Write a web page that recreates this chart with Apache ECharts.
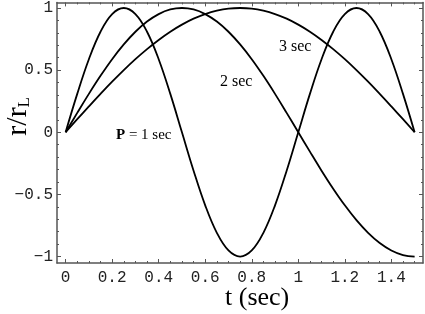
<!DOCTYPE html>
<html>
<head>
<meta charset="utf-8">
<script src="https://cdn.jsdelivr.net/npm/echarts@6/dist/echarts.min.js"></script>
<style>html,body{margin:0;padding:0;background:#fff}#c{width:425px;height:314px}</style>
</head>
<body>
<div id="c"></div>
<script>
const times = [0,0.05,0.1,0.15,0.2,0.25,0.3,0.35,0.4,0.45,0.5,0.55,0.6,0.65,0.7,0.75,0.8,0.85,0.9,0.95,1,1.05,1.1,1.15,1.2,1.25,1.3,1.35,1.4,1.45,1.5];
const period1 = [0,0.309,0.588,0.809,0.951,1,0.951,0.809,0.588,0.309,0,-0.309,-0.588,-0.809,-0.951,-1,-0.951,-0.809,-0.588,-0.309,0,0.309,0.588,0.809,0.951,1,0.951,0.809,0.588,0.309,0];
const period2 = [0,0.156,0.309,0.454,0.588,0.707,0.809,0.891,0.951,0.988,1,0.988,0.951,0.891,0.809,0.707,0.588,0.454,0.309,0.156,0,-0.156,-0.309,-0.454,-0.588,-0.707,-0.809,-0.891,-0.951,-0.988,-1];
const period3 = [0,0.105,0.208,0.309,0.407,0.5,0.588,0.669,0.743,0.809,0.866,0.914,0.951,0.978,0.995,1,0.995,0.978,0.951,0.914,0.866,0.809,0.743,0.669,0.588,0.5,0.407,0.309,0.208,0.105,0];
const curveLabels = ['P = 1 sec', '2 sec', '3 sec'];
const xMajorTicks = [0,0.2,0.4,0.6,0.8,1,1.2,1.4];
const xMinorTicks = [0.05,0.1,0.15,0.25,0.3,0.35,0.45,0.5,0.55,0.65,0.7,0.75,0.85,0.9,0.95,1.05,1.1,1.15,1.25,1.3,1.35,1.45,1.5];
const yMajorTicks = [-1,-0.5,0,0.5,1];
const yMinorTicks = [-0.9,-0.8,-0.7,-0.6,-0.4,-0.3,-0.2,-0.1,0.1,0.2,0.3,0.4,0.6,0.7,0.8,0.9];
const xTitle = 't (sec)';

const X_MIN = -0.037, X_MAX = 1.536, Y_MIN = -1.052, Y_MAX = 1.045;
function pairs(vals){ return times.map((t,i)=>[t, vals[i]]); }
function fmt(v){ return String(+Number(v).toFixed(2)).replace('-', '\u2212'); }
const frameColor = '#555';
function axis(kind, pos, ticks, len, showLine, showLabel, margin){
  const isX = kind === 'x';
  return {
    type:'value', position:pos,
    min: isX ? X_MIN : Y_MIN, max: isX ? X_MAX : Y_MAX,
    axisLine:{show:showLine, onZero:false, lineStyle:{color:frameColor, width:1.5}},
    axisTick:{show:true, inside:true, length:len, customValues:ticks, lineStyle:{color:frameColor, width:1}},
    minorTick:{show:false},
    splitLine:{show:false},
    axisLabel:{show:showLabel, customValues:ticks, margin:margin, formatter:fmt,
      fontFamily:'Liberation Mono', fontSize:16, color:'#222'}
  };
}
const lineStyle = {color:'#000', width:1.8};
function ser(vals, name){
  return {type:'line', name:name, data:pairs(vals), smooth:0.4, showSymbol:false, symbol:'none',
    lineStyle:lineStyle, xAxisIndex:0, yAxisIndex:0, animation:false};
}
const chart = echarts.init(document.getElementById('c'), null, {renderer:'canvas'});
chart.setOption({
  animation:false,
  backgroundColor:'#fff',
  grid:{left:57, right:2, top:1, bottom:51, containLabel:false},
  xAxis:[
    axis('x','bottom', xMajorTicks, 4, true, true, 7),
    axis('x','bottom', xMinorTicks, 2, false, false, 7),
    axis('x','top', xMajorTicks, 4, true, false, 7),
    axis('x','top', xMinorTicks, 2, false, false, 7)
  ],
  yAxis:[
    axis('y','left', yMajorTicks, 4, true, true, 4),
    axis('y','left', yMinorTicks, 2, false, false, 4),
    axis('y','right', yMajorTicks, 4, true, false, 4),
    axis('y','right', yMinorTicks, 2, false, false, 4)
  ],
  series:[ser(period1, curveLabels[0]), ser(period2, curveLabels[1]), ser(period3, curveLabels[2])],
  graphic:[
    {type:'text', left:116, top:128, style:{text:'{b|P} = 1 sec', font:'15px "Liberation Serif"', fill:'#000',
      rich:{b:{fontWeight:'bold', fontFamily:'Liberation Serif', fontSize:15}}}},
    {type:'text', left:220, top:74, style:{text:curveLabels[1], font:'16px "Liberation Serif"', fill:'#000'}},
    {type:'text', left:279, top:39, style:{text:curveLabels[2], font:'16px "Liberation Serif"', fill:'#000'}},
    {type:'text', left:225, top:285, style:{text:xTitle, font:'26px "Liberation Serif"', fill:'#000'}},
    {type:'text', left:3, top:97, rotation:Math.PI/2,
      style:{text:'r/r{s|L}', font:'30px "Liberation Serif"', fill:'#000',
        rich:{s:{fontSize:17, fontFamily:'Liberation Serif', verticalAlign:'bottom', padding:[13,0,0,0]}}}}
  ]
});
</script>
</body>
</html>
